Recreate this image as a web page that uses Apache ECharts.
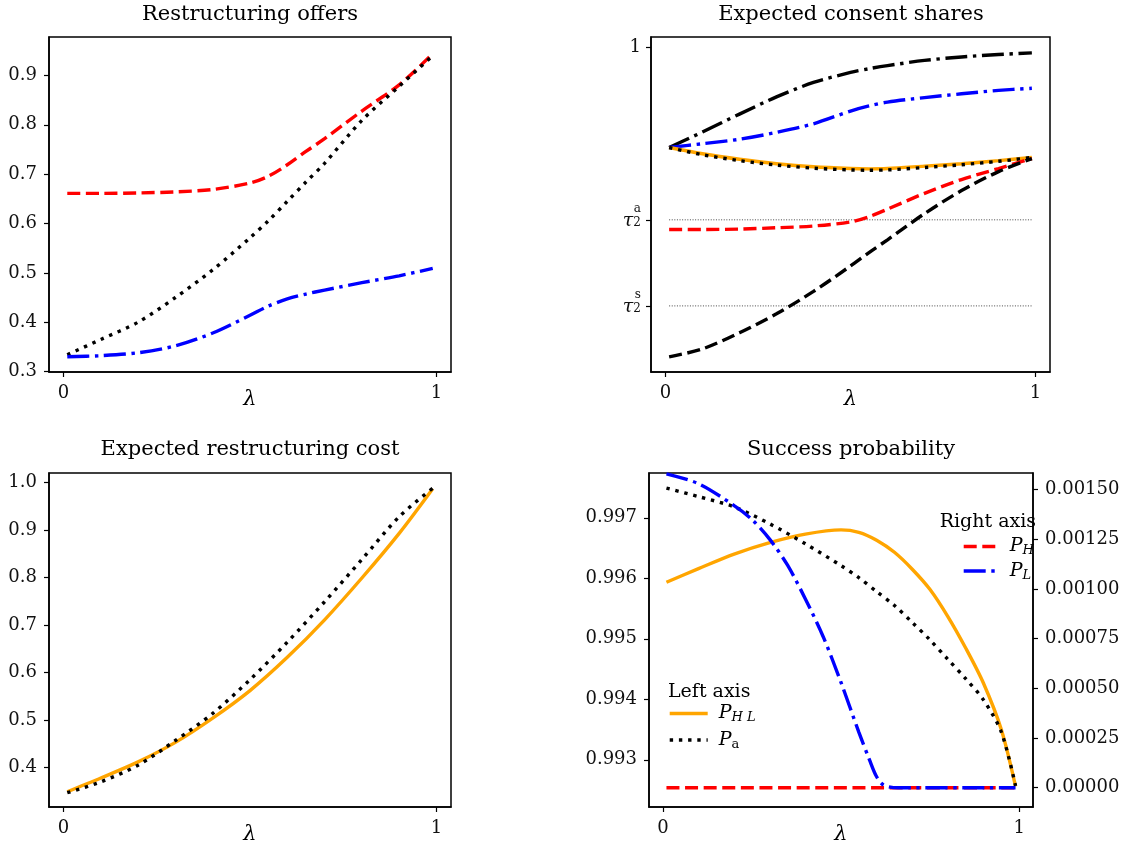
<!DOCTYPE html>
<html>
<head>
<meta charset="utf-8">
<script src="https://cdn.jsdelivr.net/npm/echarts@6/dist/echarts.min.js"></script>
<style>
html, body { margin: 0; padding: 0; background: #fff; }
#main { width: 1146px; height: 846px; }
</style>
</head>
<body>
<div id="main"></div>
<script>
// panel 1: restructuring offers
const lamOffers = [0.01, 0.1, 0.2, 0.3, 0.4, 0.5, 0.55, 0.6, 0.65, 0.7, 0.8, 0.9, 0.99];
const offerH = [0.661, 0.661, 0.662, 0.664, 0.669, 0.682, 0.696, 0.719, 0.746, 0.772, 0.828, 0.881, 0.944];
const offerPooled = [0.334, 0.365, 0.400, 0.450, 0.506, 0.571, 0.606, 0.645, 0.684, 0.722, 0.809, 0.878, 0.940];
const offerL = [0.330, 0.332, 0.338, 0.352, 0.378, 0.414, 0.433, 0.447, 0.457, 0.465, 0.480, 0.494, 0.509];

// panel 2: expected consent shares
const lamConsent = [0.01, 0.1, 0.2, 0.3, 0.4, 0.5, 0.55, 0.6, 0.7, 0.8, 0.9, 0.99];
const shareTopBlack = [0.710, 0.755, 0.807, 0.857, 0.899, 0.928, 0.939, 0.948, 0.963, 0.973, 0.980, 0.985];
const shareTopBlue = [0.710, 0.721, 0.734, 0.754, 0.779, 0.816, 0.831, 0.842, 0.855, 0.866, 0.876, 0.882];
const shareHL = [0.710, 0.692, 0.676, 0.663, 0.654, 0.649, 0.648, 0.649, 0.656, 0.663, 0.672, 0.681];
const sharePa = [0.710, 0.689, 0.672, 0.659, 0.650, 0.645, 0.644, 0.645, 0.652, 0.660, 0.670, 0.681];
const shareRed = [0.472, 0.472, 0.473, 0.477, 0.482, 0.494, 0.509, 0.531, 0.577, 0.617, 0.649, 0.678];
const shareLowBlack = [0.102, 0.125, 0.172, 0.227, 0.292, 0.366, 0.405, 0.442, 0.518, 0.585, 0.640, 0.678];
const tauA = 0.5;
const tauS = 0.25;
const lamTau = [0.01, 0.99];

// panel 3: expected restructuring cost
const lamCost = [0.01, 0.1, 0.2, 0.3, 0.4, 0.5, 0.6, 0.7, 0.8, 0.9, 0.99];
const costHL = [0.349, 0.378, 0.412, 0.453, 0.504, 0.562, 0.632, 0.711, 0.799, 0.893, 0.987];
const costPa = [0.347, 0.370, 0.405, 0.457, 0.514, 0.585, 0.664, 0.749, 0.838, 0.928, 0.988];

// panel 4: success probability
const lamSuccess = [0.01, 0.1, 0.2, 0.3, 0.4, 0.5, 0.55, 0.6, 0.65, 0.7, 0.75, 0.8, 0.85, 0.9, 0.95, 0.99];
const probHL = [0.995935, 0.99616, 0.9964, 0.99659, 0.99673, 0.9968, 0.99676, 0.99663, 0.99643, 0.99615, 0.995814, 0.995367, 0.994847, 0.994265, 0.9935, 0.99256];
const probPa = [0.99749, 0.99735, 0.99718, 0.9969, 0.99657, 0.99621, 0.99601, 0.99578, 0.99555, 0.99527, 0.99498, 0.99466, 0.99434, 0.99399, 0.99346, 0.99257];
const lamLow = [0.01, 0.1, 0.2, 0.25, 0.3, 0.35, 0.4, 0.45, 0.5, 0.55, 0.58, 0.6, 0.62, 0.66, 0.99];
const probL = [0.00158, 0.00153, 0.00142, 0.00135, 0.00125, 0.00112, 0.00095, 0.00076, 0.00053, 0.00028, 0.00014, 0.000055, 0.000013, 0, 0];
const lamHigh = [0.01, 0.99];
const probH = [0, 0];

// tick labels
const xTicks = [0, 1];
const offerTicks = [0.3, 0.4, 0.5, 0.6, 0.7, 0.8, 0.9];
const shareTicks = [0.25, 0.5, 1];
const costTicks = [0.4, 0.5, 0.6, 0.7, 0.8, 0.9, 1.0];
const succLeftTicks = [0.993, 0.994, 0.995, 0.996, 0.997];
const succRightTicks = [0, 0.00025, 0.0005, 0.00075, 0.001, 0.00125, 0.0015];

const FONT = 'DejaVu Serif';
const LW = 3.4;
const DASH = [13, 5.6];
const DOT = [3.4, 5.8];
const DASHDOT = [22, 5.6, 3.4, 5.6];

function pairs(xs, ys) {
  return xs.map((x, i) => [x, ys[i]]);
}

function xAxisFor(gi) {
  return {
    type: 'value', gridIndex: gi, min: -0.039, max: 1.039,
    name: 'λ', nameLocation: 'middle', nameGap: 17, nameMoveOverlap: false,
    nameTextStyle: { fontFamily: FONT, fontSize: 21, fontStyle: 'italic', color: '#000' },
    axisLine: { show: true, onZero: false, lineStyle: { color: '#000', width: 1.5 } },
    axisTick: { show: true, customValues: xTicks, length: 5, lineStyle: { color: '#000', width: 1.2 } },
    axisLabel: { customValues: xTicks, margin: 12, fontFamily: FONT, fontSize: 18, color: '#111' },
    splitLine: { show: false }
  };
}

function yAxisFor(gi, min, max, ticks, fmt, pos) {
  return {
    type: 'value', gridIndex: gi, min: min, max: max, position: pos || 'left',
    axisLine: { show: true, onZero: false, lineStyle: { color: '#000', width: 1.5 } },
    axisTick: { show: true, customValues: ticks, length: 5, lineStyle: { color: '#000', width: 1.2 } },
    axisLabel: { customValues: ticks, margin: 12, fontFamily: FONT, fontSize: 18, color: '#111', formatter: fmt },
    splitLine: { show: false }
  };
}

function line(name, xi, yi, data, color, type, extra) {
  return Object.assign({
    name: name, type: 'line', xAxisIndex: xi, yAxisIndex: yi, data: data,
    showSymbol: false, symbol: 'none', smooth: 0.3,
    lineStyle: { color: color, width: LW, type: type, cap: 'butt' },
    itemStyle: { color: color }
  }, extra || {});
}

// superscript on its own line, τ with subscript below it, both right-aligned to the tick
const tauFmt = v => {
  if (v === 1) return '{n|1}';
  const s = v === tauA ? 'a' : 's';
  return '{sup|' + s + '}\n{t|τ}{sub|2}';
};

const titleStyle = { fontFamily: FONT, fontSize: 21, fontWeight: 'normal', color: '#000' };
const smallTitle = { fontFamily: FONT, fontSize: 19, fontWeight: 'normal', color: '#000' };

const legendRich = {
  i: { fontFamily: FONT, fontStyle: 'italic', fontSize: 19, lineHeight: 22, color: '#000' },
  s: { fontFamily: FONT, fontStyle: 'italic', fontSize: 13, lineHeight: 12, verticalAlign: 'bottom', color: '#000' },
  u: { fontFamily: FONT, fontSize: 13, lineHeight: 12, verticalAlign: 'bottom', color: '#000' }
};
const legendNames = {
  'P_H': '{i|P}{s|H}', 'P_L': '{i|P}{s|L}',
  'P_HL': '{i|P}{s|H L}', 'P_a': '{i|P}{u|a}'
};
const legendCommon = {
  orient: 'vertical', itemHeight: 14, selectedMode: false, padding: 0,
  formatter: n => legendNames[n],
  itemStyle: { color: 'rgba(0,0,0,0)', borderWidth: 0, opacity: 0 },
  lineStyle: { width: LW },
  textStyle: { padding: [0, 0, 0, 6], rich: legendRich }
};

const gridBase = { show: true, borderColor: '#000', borderWidth: 1.5, outerBoundsMode: 'none', containLabel: false };

const chart = echarts.init(document.getElementById('main'));
chart.setOption({
  animation: false,
  backgroundColor: '#fff',
  title: [
    { text: 'Restructuring offers', left: 250, top: 4, padding: 0, textAlign: 'center', textStyle: titleStyle },
    { text: 'Expected consent shares', left: 851, top: 4, padding: 0, textAlign: 'center', textStyle: titleStyle },
    { text: 'Expected restructuring cost', left: 250, top: 439, padding: 0, textAlign: 'center', textStyle: titleStyle },
    { text: 'Success probability', left: 851, top: 439, padding: 0, textAlign: 'center', textStyle: titleStyle },
    { text: 'Right axis', left: 1036, top: 513, padding: 0, textAlign: 'right', textStyle: smallTitle },
    { text: 'Left axis', left: 668, top: 683, padding: 0, textAlign: 'left', textStyle: smallTitle }
  ],
  legend: [
    Object.assign({ data: ['P_H', 'P_L'], left: 962, top: 537, itemWidth: 35, itemGap: 4 }, legendCommon),
    Object.assign({ data: ['P_HL', 'P_a'], left: 668, top: 704, itemWidth: 38, itemGap: 6 }, legendCommon)
  ],
  grid: [
    Object.assign({ left: 49, top: 37, width: 402, height: 335 }, gridBase),
    Object.assign({ left: 651, top: 37, width: 399, height: 335 }, gridBase),
    Object.assign({ left: 49, top: 473, width: 402, height: 334 }, gridBase),
    Object.assign({ left: 649, top: 473, width: 384, height: 334 }, gridBase)
  ],
  xAxis: [xAxisFor(0), xAxisFor(1), xAxisFor(2), xAxisFor(3)],
  yAxis: [
    yAxisFor(0, 0.299, 0.978, offerTicks, v => v.toFixed(1)),
    Object.assign(yAxisFor(1, 0.058, 1.031, shareTicks, tauFmt), {
      axisLabel: {
        customValues: shareTicks, margin: 10, formatter: tauFmt,
        rich: {
          n: { fontFamily: FONT, fontSize: 18, lineHeight: 20, color: '#111' },
          sup: { fontFamily: FONT, fontSize: 12, lineHeight: 6, color: '#111' },
          t: { fontFamily: FONT, fontStyle: 'italic', fontSize: 19, lineHeight: 12, verticalAlign: 'top', color: '#111' },
          sub: { fontFamily: FONT, fontSize: 12, lineHeight: 22, color: '#111' }
        }
      }
    }),
    yAxisFor(2, 0.317, 1.02, costTicks, v => v.toFixed(1)),
    yAxisFor(3, 0.99222, 0.99774, succLeftTicks, v => v.toFixed(3)),
    yAxisFor(3, -0.0000971, 0.001584, succRightTicks, v => v.toFixed(5), 'right')
  ],
  series: [
    line('offer_H', 0, 0, pairs(lamOffers, offerH), '#ff0000', DASH),
    line('offer_pool', 0, 0, pairs(lamOffers, offerPooled), '#000000', DOT),
    line('offer_L', 0, 0, pairs(lamOffers, offerL), '#0000ff', DASHDOT),

    line('tau_a', 1, 1, pairs(lamTau, [tauA, tauA]), '#333333', [1, 1.6], { lineStyle: { color: '#333', width: 0.9, type: [1, 1.6] }, smooth: false }),
    line('tau_s', 1, 1, pairs(lamTau, [tauS, tauS]), '#333333', [1, 1.6], { lineStyle: { color: '#333', width: 0.9, type: [1, 1.6] }, smooth: false }),
    line('share_top_black', 1, 1, pairs(lamConsent, shareTopBlack), '#000000', DASHDOT),
    line('share_top_blue', 1, 1, pairs(lamConsent, shareTopBlue), '#0000ff', DASHDOT),
    line('share_HL', 1, 1, pairs(lamConsent, shareHL), '#ffa500', 'solid'),
    line('share_Pa', 1, 1, pairs(lamConsent, sharePa), '#000000', DOT),
    line('share_red', 1, 1, pairs(lamConsent, shareRed), '#ff0000', DASH),
    line('share_low_black', 1, 1, pairs(lamConsent, shareLowBlack), '#000000', DASH),

    line('cost_HL', 2, 2, pairs(lamCost, costHL), '#ffa500', 'solid'),
    line('cost_Pa', 2, 2, pairs(lamCost, costPa), '#000000', DOT),

    line('P_HL', 3, 3, pairs(lamSuccess, probHL), '#ffa500', 'solid'),
    line('P_a', 3, 3, pairs(lamSuccess, probPa), '#000000', DOT),
    line('P_H', 3, 4, pairs(lamHigh, probH), '#ff0000', DASH, { smooth: false }),
    line('P_L', 3, 4, pairs(lamLow, probL), '#0000ff', DASHDOT)
  ]
});
</script>
</body>
</html>
